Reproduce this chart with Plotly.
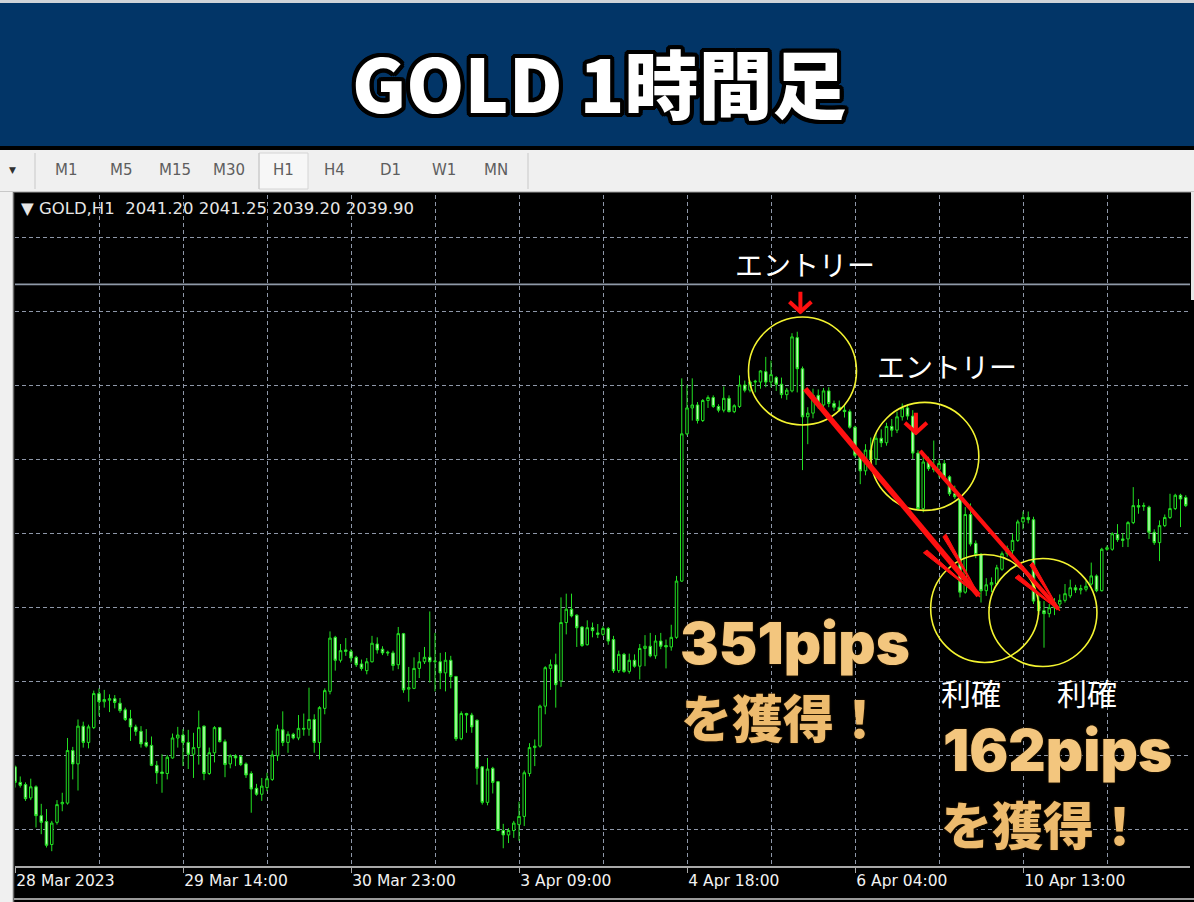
import math
import plotly.graph_objects as go

# ---------------- data (GOLD H1 candles) ----------------
opens = [
    1978.4, 1976.3, 1976.0, 1974.2, 1975.7, 1971.8, 1971.0, 1967.9, 1970.9, 1973.4,
    1973.5, 1980.6, 1978.8, 1983.9, 1981.7, 1983.7, 1988.3, 1987.2, 1987.4, 1987.6,
    1987.0, 1986.1, 1984.9, 1983.8, 1983.2, 1981.7, 1981.3, 1978.6, 1977.7, 1977.5,
    1979.6, 1982.3, 1982.7, 1981.7, 1980.1, 1981.0, 1983.9, 1977.5, 1980.3, 1983.7,
    1981.8, 1978.8, 1979.9, 1979.8, 1978.8, 1977.5, 1975.5, 1974.7, 1975.6, 1976.7,
    1979.9, 1983.4, 1981.7, 1982.8, 1982.3, 1983.6, 1983.5, 1984.8, 1981.7, 1986.3,
    1988.6, 1995.9, 1992.8, 1994.2, 1994.0, 1993.2, 1992.3, 1991.4, 1992.6, 1995.0,
    1994.3, 1993.9, 1993.8, 1992.2, 1996.4, 1988.9, 1989.0, 1991.7, 1992.6, 1993.2,
    1992.6, 1992.6, 1991.1, 1992.8, 1990.6, 1982.2, 1985.6, 1985.4, 1984.7, 1978.4,
    1973.6, 1978.2, 1976.4, 1969.8, 1969.2, 1969.8, 1970.6, 1971.7, 1977.5, 1981.0,
    1981.2, 1986.6, 1991.7, 1992.2, 1990.0, 1997.9, 1999.7, 1998.9, 1997.3, 1994.9,
    1997.2, 1996.5, 1996.3, 1997.1, 1995.6, 1991.4, 1993.6, 1991.3, 1992.8, 1992.0,
    1994.4, 1994.7, 1993.4, 1995.4, 1994.8, 1994.6, 1995.9, 2003.5, 2023.4, 2026.9,
    2027.3, 2025.2, 2027.9, 2028.3, 2027.1, 2026.6, 2028.2, 2026.4, 2027.1, 2030.0,
    2029.3, 2030.4, 2030.4, 2031.8, 2030.4, 2031.0, 2030.1, 2028.7, 2029.2, 2036.4,
    2032.2, 2025.7, 2026.2, 2028.6, 2027.3, 2029.2, 2027.5, 2027.0, 2026.6, 2026.4,
    2024.3, 2020.5, 2018.4, 2021.2, 2020.0, 2022.8, 2022.2, 2024.4, 2023.9, 2025.7,
    2026.9, 2025.8, 2020.8, 2013.3, 2019.6, 2018.8, 2018.6, 2019.4, 2017.6, 2015.3,
    2014.9, 2002.0, 2012.5, 2008.6, 2007.1, 2002.2, 2003.0, 2003.1, 2005.1, 2007.2,
    2007.6, 2009.0, 2011.5, 2012.1, 2011.8, 2000.8, 1999.5, 1999.1, 1999.9, 2000.4,
    2000.9, 2001.5, 2002.6, 2002.3, 2002.4, 2003.1, 2004.2, 2002.2, 2007.8, 2007.8,
    2009.8, 2009.2, 2009.2, 2011.4, 2013.7, 2013.6, 2013.5, 2010.1, 2008.7, 2011.0,
    2012.1, 2013.3, 2015.1, 2014.8,
]
highs = [
    1978.6, 1977.1, 1976.3, 1976.8, 1975.9, 1973.4, 1972.7, 1971.1, 1973.9, 1974.9,
    1982.3, 1981.1, 1984.8, 1984.5, 1984.1, 1988.7, 1989.0, 1988.8, 1988.2, 1988.1,
    1987.7, 1986.4, 1986.1, 1984.1, 1983.9, 1983.5, 1982.5, 1979.2, 1980.1, 1980.0,
    1982.9, 1983.8, 1983.5, 1983.4, 1983.0, 1986.0, 1984.0, 1981.0, 1983.9, 1983.8,
    1982.1, 1980.1, 1980.1, 1980.0, 1979.0, 1977.8, 1976.1, 1976.9, 1977.6, 1980.6,
    1984.1, 1985.9, 1983.2, 1983.0, 1985.4, 1985.6, 1989.1, 1985.5, 1986.6, 1989.0,
    1996.7, 1996.1, 1995.0, 1995.8, 1994.3, 1993.4, 1992.9, 1993.1, 1996.1, 1995.9,
    1994.7, 1994.1, 1994.1, 1997.3, 1996.5, 1991.9, 1993.2, 1993.9, 1994.6, 1999.4,
    1996.5, 1993.8, 1993.9, 1993.4, 1990.7, 1985.9, 1985.7, 1985.7, 1984.8, 1978.5,
    1979.6, 1978.4, 1976.5, 1970.7, 1970.1, 1971.1, 1973.7, 1977.9, 1981.6, 1982.1,
    1986.8, 1992.0, 1992.9, 1993.7, 2001.3, 2001.8, 2001.8, 1999.0, 1997.4, 1998.2,
    1997.9, 1997.7, 1997.4, 1997.3, 1996.1, 1994.1, 1993.8, 1993.7, 1993.6, 1995.0,
    1996.2, 1996.5, 1996.2, 1996.5, 1995.6, 1997.6, 2004.2, 2030.9, 2030.0, 2030.9,
    2027.7, 2028.1, 2028.6, 2028.6, 2027.4, 2029.8, 2028.6, 2027.4, 2031.3, 2030.6,
    2030.6, 2030.7, 2032.0, 2033.8, 2033.3, 2031.2, 2031.0, 2029.6, 2037.0, 2037.2,
    2032.5, 2027.0, 2029.5, 2029.4, 2029.6, 2029.7, 2027.9, 2027.9, 2027.4, 2026.7,
    2024.5, 2020.8, 2022.0, 2022.9, 2023.5, 2024.0, 2024.9, 2025.4, 2026.4, 2027.5,
    2027.4, 2026.6, 2021.2, 2020.6, 2020.3, 2022.5, 2020.0, 2019.9, 2017.8, 2016.4,
    2015.2, 2013.5, 2014.0, 2009.0, 2007.3, 2003.9, 2004.0, 2005.7, 2007.5, 2008.3,
    2009.9, 2011.8, 2012.9, 2012.9, 2012.2, 2001.6, 2000.8, 2000.4, 2001.2, 2001.7,
    2003.1, 2003.7, 2003.0, 2003.0, 2003.5, 2006.0, 2004.4, 2008.0, 2008.3, 2010.1,
    2011.2, 2010.0, 2011.6, 2016.2, 2014.6, 2014.1, 2013.7, 2010.5, 2011.7, 2012.5,
    2015.3, 2015.3, 2015.3, 2015.1,
]
lows = [
    1975.6, 1975.6, 1973.8, 1973.9, 1970.2, 1969.3, 1967.5, 1967.0, 1970.6, 1972.4,
    1973.3, 1976.7, 1975.2, 1981.0, 1980.9, 1983.5, 1985.3, 1986.4, 1985.8, 1986.3,
    1985.7, 1984.6, 1981.9, 1982.6, 1981.0, 1981.0, 1978.5, 1976.1, 1974.9, 1976.7,
    1979.5, 1981.0, 1978.5, 1978.1, 1976.9, 1978.7, 1976.6, 1977.3, 1979.0, 1981.7,
    1977.0, 1978.2, 1978.5, 1978.5, 1976.9, 1972.2, 1974.5, 1973.8, 1975.1, 1976.5,
    1979.2, 1981.2, 1980.3, 1982.1, 1982.0, 1982.6, 1982.6, 1980.3, 1979.4, 1985.5,
    1988.2, 1991.4, 1992.5, 1993.4, 1992.5, 1991.9, 1991.4, 1990.9, 1992.5, 1993.7,
    1993.5, 1993.4, 1991.4, 1991.6, 1988.4, 1987.2, 1988.9, 1990.4, 1992.3, 1989.8,
    1988.6, 1988.9, 1988.6, 1989.0, 1981.9, 1982.0, 1983.0, 1983.0, 1976.0, 1973.3,
    1973.2, 1974.8, 1969.7, 1967.4, 1968.1, 1968.8, 1968.4, 1970.4, 1977.1, 1978.5,
    1981.0, 1985.5, 1988.8, 1986.4, 1989.2, 1996.3, 1998.6, 1994.6, 1994.6, 1994.8,
    1995.9, 1995.8, 1996.1, 1994.9, 1991.1, 1991.1, 1991.1, 1991.0, 1991.8, 1990.2,
    1992.0, 1993.2, 1993.0, 1994.3, 1991.7, 1994.1, 1995.7, 2003.4, 2023.2, 2025.2,
    2024.8, 2025.0, 2026.9, 2026.9, 2026.3, 2026.3, 2026.3, 2026.2, 2026.9, 2029.0,
    2029.0, 2029.0, 2029.5, 2029.7, 2029.7, 2029.2, 2028.2, 2028.0, 2029.0, 2029.0,
    2018.5, 2022.0, 2025.5, 2026.8, 2027.0, 2027.0, 2026.5, 2026.4, 2025.6, 2024.1,
    2020.2, 2016.6, 2017.8, 2019.6, 2019.2, 2021.6, 2021.8, 2023.0, 2023.5, 2025.2,
    2025.3, 2020.0, 2013.0, 2012.8, 2018.4, 2018.2, 2017.5, 2017.1, 2015.0, 2014.6,
    2001.3, 2001.8, 2008.2, 2006.6, 2000.6, 2001.5, 2002.0, 2002.9, 2004.9, 2006.8,
    2007.1, 2008.8, 2010.5, 2011.3, 2000.4, 1998.9, 1994.5, 1998.6, 1998.9, 1999.8,
    2000.6, 2001.2, 2001.9, 2001.7, 2002.1, 2002.9, 2002.0, 2002.1, 2007.6, 2007.6,
    2008.8, 2008.1, 2008.1, 2011.2, 2012.6, 2013.0, 2009.2, 2008.4, 2006.2, 2010.8,
    2011.9, 2013.1, 2010.8, 2013.5,
]
closes = [
    1976.3, 1975.9, 1974.1, 1975.7, 1971.8, 1970.9, 1967.8, 1970.8, 1973.3, 1973.6,
    1980.6, 1978.8, 1983.9, 1981.7, 1983.8, 1988.3, 1987.2, 1987.5, 1987.6, 1987.1,
    1986.0, 1984.8, 1983.8, 1983.2, 1981.5, 1981.2, 1978.6, 1977.6, 1977.5, 1979.7,
    1982.3, 1982.7, 1981.7, 1980.1, 1981.0, 1983.7, 1977.5, 1980.3, 1983.7, 1981.8,
    1978.7, 1979.9, 1979.6, 1978.7, 1977.3, 1975.4, 1974.7, 1975.8, 1976.8, 1980.0,
    1983.5, 1981.7, 1982.8, 1982.3, 1983.6, 1983.5, 1984.8, 1981.7, 1986.4, 1988.7,
    1995.8, 1992.8, 1994.1, 1994.0, 1993.1, 1992.2, 1991.7, 1992.6, 1995.1, 1994.2,
    1993.8, 1993.8, 1992.1, 1996.4, 1988.8, 1989.1, 1991.7, 1992.6, 1993.2, 1992.6,
    1992.7, 1991.1, 1992.8, 1990.6, 1982.2, 1985.6, 1985.4, 1983.8, 1978.2, 1973.6,
    1978.1, 1976.3, 1969.8, 1969.2, 1969.8, 1970.8, 1971.7, 1977.6, 1981.0, 1981.2,
    1986.6, 1991.8, 1992.2, 1989.5, 1997.9, 1999.7, 1998.8, 1997.2, 1994.8, 1997.2,
    1996.8, 1996.3, 1997.1, 1995.4, 1991.4, 1993.6, 1991.3, 1992.8, 1992.0, 1994.4,
    1994.7, 1993.4, 1995.4, 1994.7, 1994.6, 1995.9, 2003.5, 2023.4, 2026.9, 2027.3,
    2025.2, 2027.9, 2028.3, 2027.1, 2026.6, 2028.2, 2026.4, 2027.2, 2030.0, 2029.3,
    2030.4, 2030.5, 2031.9, 2030.4, 2031.4, 2030.1, 2028.7, 2029.3, 2036.5, 2032.2,
    2025.7, 2026.2, 2028.6, 2027.3, 2029.2, 2027.5, 2027.0, 2026.6, 2026.4, 2024.3,
    2020.5, 2018.4, 2021.2, 2020.0, 2022.8, 2022.2, 2024.4, 2023.9, 2025.7, 2026.9,
    2025.8, 2020.8, 2013.3, 2019.6, 2018.7, 2018.6, 2019.4, 2017.6, 2015.3, 2014.9,
    2002.0, 2012.5, 2008.5, 2007.1, 2002.2, 2003.0, 2003.3, 2005.3, 2007.2, 2007.9,
    2009.0, 2011.5, 2012.1, 2011.8, 2000.8, 1999.5, 1999.1, 1999.9, 2000.6, 2000.9,
    2001.8, 2002.6, 2002.3, 2002.5, 2002.8, 2004.2, 2002.2, 2007.8, 2008.0, 2009.9,
    2009.1, 2009.0, 2011.4, 2013.7, 2013.5, 2013.7, 2010.1, 2008.7, 2011.0, 2012.1,
    2013.3, 2015.1, 2014.6, 2013.7,
]
bars = list(range(len(closes)))

tick_bars = [0, 32, 64, 96, 128, 160, 192]
tick_labels = ["28 Mar 2023", "29 Mar 14:00", "30 Mar 23:00", "3 Apr 09:00",
               "4 Apr 18:00", "6 Apr 04:00", "10 Apr 13:00"]
grid_bars = [16, 48, 80, 112, 144, 176, 208]
price_grid = [1970, 1980, 1990, 2000, 2010, 2020, 2030, 2040, 2050]
price_line = 2043.6

timeframes = ["M1", "M5", "M15", "M30", "H1", "H4", "D1", "W1", "MN"]
header_text = "▼ GOLD,H1\u00a0\u00a02041.20 2041.25 2039.20 2039.90"
title_text = "GOLD 1時間足"

# annotation anchors in (bar, price)
entry_points = [(149.6, 2039.9), (171.6, 2023.55)]
entry_labels = [(150.5, 2046.3), (177.5, 2032.6)]
circles = [(150.0, 2031.9), (173.3, 2020.35), (184.7, 1999.8), (195.8, 1999.25)]
trade_arrows = [((150.5, 2029.5), (183.8, 2001.35)), ((172.4, 2021.1), (199.0, 1999.5))]
exit_labels = [(182.1, 1988.5), (204.2, 1988.5)]
# (text, bar of left edge, price of line centre)
pips_lines = [("351pips", 126.5, 1995.15), ("162pips", 176.6, 1980.69)]
gain_lines = [("を獲得！", 126.6, 1985.30), ("を獲得！", 176.2, 1970.84)]

# ---------------- geometry ----------------
W, H = 1194, 902
PL, PR, PT, PB = 15, 1190, 195, 866
BAR_PX = 5.25
PX_PER_USD = 7.4
X_RANGE = [0, (PR - PL) / BAR_PX]
Y_RANGE = [2000 - (PB - 607) / PX_PER_USD, 2000 + (607 - PT) / PX_PER_USD]


def to_px(xb, p):
    x = PL + (xb - X_RANGE[0]) / (X_RANGE[1] - X_RANGE[0]) * (PR - PL)
    y = PB - (p - Y_RANGE[0]) / (Y_RANGE[1] - Y_RANGE[0]) * (PB - PT)
    return x, y


def to_data(x, y):
    xb = X_RANGE[0] + (x - PL) / (PR - PL) * (X_RANGE[1] - X_RANGE[0])
    p = Y_RANGE[0] + (PB - y) / (PB - PT) * (Y_RANGE[1] - Y_RANGE[0])
    return xb, p


def px_x(x):
    return x / W


def px_y(y):
    return 1 - y / H


shapes = []
annotations = []

# background panels
shapes.append(dict(type="rect", xref="paper", yref="paper", x0=0, x1=1, y0=px_y(0), y1=px_y(3),
                   fillcolor="#cfd3d8", line_width=0, layer="below"))
shapes.append(dict(type="rect", xref="paper", yref="paper", x0=0, x1=1, y0=px_y(3), y1=px_y(146),
                   fillcolor="#023567", line_width=0, layer="below"))
shapes.append(dict(type="rect", xref="paper", yref="paper", x0=0, x1=1, y0=px_y(146), y1=px_y(150),
                   fillcolor="#000000", line_width=0, layer="below"))
shapes.append(dict(type="rect", xref="paper", yref="paper", x0=0, x1=1, y0=px_y(150), y1=px_y(192),
                   fillcolor="#f0f0f0", line_width=0, layer="below"))
shapes.append(dict(type="rect", xref="paper", yref="paper", x0=px_x(259), x1=px_x(308),
                   y0=px_y(153), y1=px_y(189), fillcolor="#f7f7f7",
                   line=dict(color="#d4d4d4", width=1), layer="below"))
for sx in (35, 259, 528):
    shapes.append(dict(type="line", xref="paper", yref="paper", x0=px_x(sx), x1=px_x(sx),
                       y0=px_y(153), y1=px_y(189), line=dict(color="#c8c8c8", width=1), layer="below"))
shapes.append(dict(type="line", xref="paper", yref="paper", x0=0, x1=1, y0=px_y(192), y1=px_y(192),
                   line=dict(color="#a0a0a0", width=1), layer="below"))
# left frame strip
shapes.append(dict(type="rect", xref="paper", yref="paper", x0=0, x1=px_x(13), y0=0, y1=px_y(192),
                   fillcolor="#f0f0f0", line_width=0, layer="below"))
shapes.append(dict(type="line", xref="paper", yref="paper", x0=px_x(13.5), x1=px_x(13.5), y0=0, y1=px_y(192),
                   line=dict(color="#6a6a6a", width=1.5), layer="below"))
# right strip
shapes.append(dict(type="rect", xref="paper", yref="paper", x0=px_x(1191), x1=1, y0=px_y(300), y1=px_y(192),
                   fillcolor="#e8e8e8", line_width=0, layer="below"))
# bottom strip
shapes.append(dict(type="line", xref="paper", yref="paper", x0=px_x(14), x1=1, y0=px_y(899), y1=px_y(899),
                   line=dict(color="#9a9a9a", width=2), layer="below"))

# current price line
shapes.append(dict(type="line", xref="x", yref="y", x0=X_RANGE[0], x1=X_RANGE[1], y0=price_line, y1=price_line,
                   line=dict(color="#8f99a8", width=1.6), layer="below"))

# yellow circles
R_PX = 54
for cb, cp in circles:
    cx, cy = to_px(cb, cp)
    x0, y1 = to_data(cx - R_PX, cy - R_PX)
    x1, y0 = to_data(cx + R_PX, cy + R_PX)
    shapes.append(dict(type="circle", xref="x", yref="y", x0=x0, x1=x1, y0=y0, y1=y1,
                       line=dict(color="#f4f430", width=1.6)))

RED = "#ff1010"


def seg(p1, p2, width):
    a = to_data(*p1)
    b = to_data(*p2)
    return dict(type="line", xref="x", yref="y", x0=a[0], y0=a[1], x1=b[0], y1=b[1],
                line=dict(color=RED, width=width))


# trade arrows
for k, (start, end) in enumerate(trade_arrows):
    sx, sy = to_px(*start)
    ex, ey = to_px(*end)
    d = math.hypot(ex - sx, ey - sy)
    ux, uy = (ex - sx) / d, (ey - sy) / d
    nx, ny = -uy, ux
    hl, hw, sw = (70, 12.5, 5.5) if k == 0 else (54, 9.6, 4.2)
    shapes.append(seg((sx, sy), (ex - 2 * ux, ey - 2 * uy), sw))
    for sgn in (1, -1):
        bx, by = ex - hl * ux + sgn * hw * nx, ey - hl * uy + sgn * hw * ny
        pts = [(ex, ey), (bx + sgn * 2.2 * nx - 0.5 * ux, by + sgn * 2.2 * ny),
               (bx - sgn * 2.2 * nx, by - sgn * 2.2 * ny)]
        dp = [to_data(*p) for p in pts]
        path = "M {:.4f},{:.4f} L {:.4f},{:.4f} L {:.4f},{:.4f} Z".format(
            dp[0][0], dp[0][1], dp[1][0], dp[1][1], dp[2][0], dp[2][1])
        shapes.append(dict(type="path", xref="x", yref="y", path=path, fillcolor=RED,
                           line=dict(color=RED, width=1)))

# small entry arrows
for eb, ep in entry_points:
    tx, ty = to_px(eb, ep)
    shapes.append(seg((tx, ty - 20), (tx, ty - 2), 4))
    shapes.append(seg((tx - 11, ty - 10), (tx + 1, ty + 1), 4))
    shapes.append(seg((tx + 11, ty - 10), (tx - 1, ty + 1), 4))

# ---------------- text ----------------
outline = ", ".join("{}px {}px 0 #000".format(dx, dy)
                    for dx in (-4, -3, -2, 0, 2, 3, 4) for dy in (-4, -3, -2, 0, 2, 3, 4)
                    if (dx, dy) != (0, 0) and dx * dx + dy * dy <= 20)
annotations.append(dict(xref="paper", yref="paper", x=px_x(599), y=px_y(80), text=title_text,
                        showarrow=False, xanchor="center", yanchor="middle",
                        font=dict(family="Noto Sans CJK JP", size=74, color="#ffffff", weight=900,
                                  shadow=outline)))

tf_x = [66, 121, 175, 229, 283, 335, 390, 444, 496]
for name, x in zip(timeframes, tf_x):
    annotations.append(dict(xref="paper", yref="paper", x=px_x(x), y=px_y(170), text=name,
                            showarrow=False, xanchor="center", yanchor="middle",
                            font=dict(family="DejaVu Sans", size=15, color="#5e5e5e")))
annotations.append(dict(xref="paper", yref="paper", x=px_x(12), y=px_y(170), text="▼",
                        showarrow=False, xanchor="center", yanchor="middle",
                        font=dict(family="DejaVu Sans", size=9, color="#303030")))

annotations.append(dict(xref="paper", yref="paper", x=px_x(19), y=px_y(209), text=header_text,
                        showarrow=False, xanchor="left", yanchor="middle",
                        font=dict(family="DejaVu Sans", size=16.5, color="#e6e6e6")))

for b, p in entry_labels:
    annotations.append(dict(xref="x", yref="y", x=b, y=p, text="エントリー", showarrow=False,
                            xanchor="center", yanchor="middle",
                            font=dict(family="Noto Sans CJK JP", size=28, color="#ffffff")))
for b, p in exit_labels:
    annotations.append(dict(xref="x", yref="y", x=b, y=p, text="利確", showarrow=False,
                            xanchor="center", yanchor="middle", borderpad=0,
                            font=dict(family="Noto Sans CJK JP", size=30, color="#ffffff")))

gold_shadow = "0 0 2px #4a2c00, 1px 2px 1px #000"
for t, b, p in pips_lines:
    annotations.append(dict(xref="x", yref="y", x=b, y=p, text=t, showarrow=False,
                            xanchor="left", yanchor="middle", borderpad=0,
                            font=dict(family="Inter", size=58, color="#f3c67e", weight=900,
                                      shadow=gold_shadow)))
for t, b, p in gain_lines:
    annotations.append(dict(xref="x", yref="y", x=b, y=p, text=t, showarrow=False,
                            xanchor="left", yanchor="middle", borderpad=0,
                            font=dict(family="Noto Sans CJK JP", size=51, color="#edbb6e", weight=900,
                                      shadow=gold_shadow)))

# ---------------- figure ----------------
GREEN = "#22e022"
fig = go.Figure(go.Candlestick(
    x=bars, open=opens, high=highs, low=lows, close=closes,
    increasing=dict(line=dict(color=GREEN, width=1), fillcolor="#000000"),
    decreasing=dict(line=dict(color=GREEN, width=1), fillcolor="#b8ffb0"),
    whiskerwidth=0, hoverinfo="skip", showlegend=False,
))

GRID = "#8e97a8"
fig.update_layout(
    width=W, height=H, margin=dict(l=0, r=0, t=0, b=0),
    paper_bgcolor="#000000", plot_bgcolor="#000000",
    boxgap=0.32,
    shapes=shapes, annotations=annotations,
    xaxis=dict(domain=[PL / W, PR / W], range=X_RANGE, rangeslider=dict(visible=False),
               tickmode="array", tickvals=tick_bars, ticktext=tick_labels,
               ticklabelposition="outside right", ticks="outside", ticklen=5, tickcolor="#a8a8a8",
               tickfont=dict(family="DejaVu Sans", size=15.5, color="#f2f2f2"),
               showgrid=True, gridcolor=GRID, griddash="4px,3px", gridwidth=1,
               minor=dict(tickmode="array", tickvals=grid_bars, showgrid=True, gridcolor=GRID,
                          griddash="4px,3px", gridwidth=1, ticks=""),
               showline=True, linecolor="#a8a8a8", linewidth=1.5, zeroline=False, fixedrange=True),
    yaxis=dict(domain=[1 - PB / H, 1 - PT / H], range=Y_RANGE, tickmode="array", tickvals=price_grid,
               showticklabels=False, ticks="", showgrid=True, gridcolor=GRID, griddash="4px,3px",
               gridwidth=1, zeroline=False, showline=False, fixedrange=True),
)

fig.write_html("out.html", config={"displayModeBar": False},
               post_script="document.body.style.margin='0';document.body.style.overflow='hidden';")
